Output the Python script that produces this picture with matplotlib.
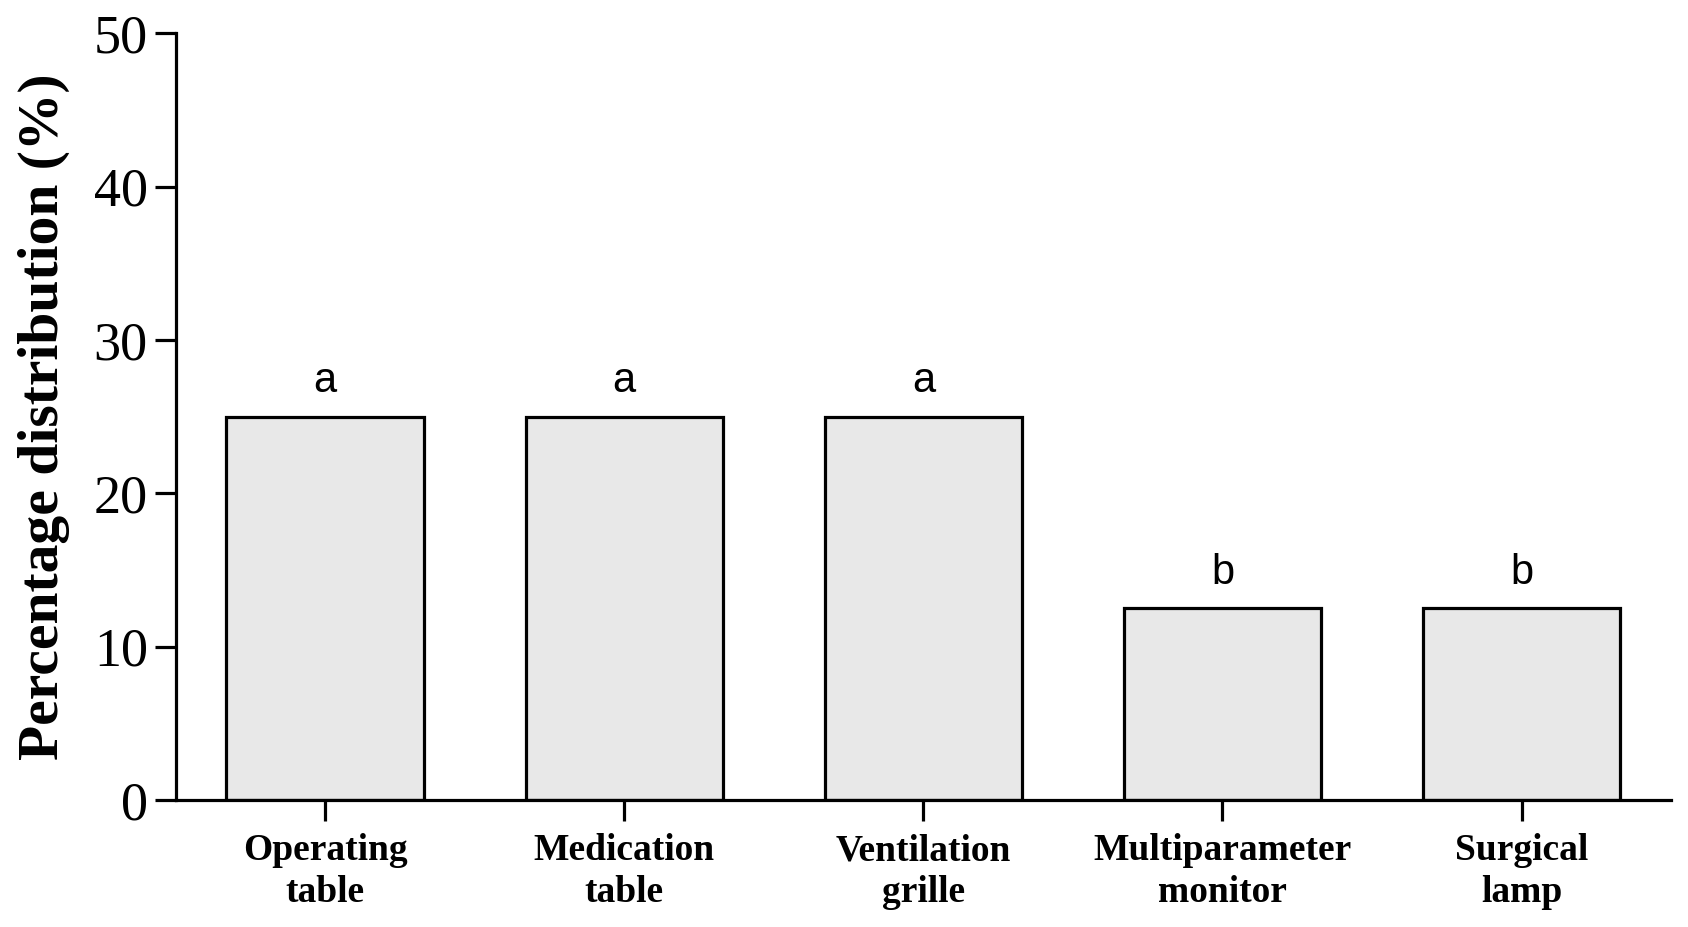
import matplotlib
matplotlib.use("Agg")
import matplotlib.pyplot as plt

categories = ["Operating\ntable", "Medication\ntable", "Ventilation\ngrille",
              "Multiparameter\nmonitor", "Surgical\nlamp"]
values = [25, 25, 25, 12.5, 12.5]
letters = ["a", "a", "a", "b", "b"]
yticks = [0, 10, 20, 30, 40, 50]

fig = plt.figure(figsize=(16.88, 9.27), dpi=100)
ax = fig.add_axes([0.104, 0.137, 0.886, 0.827])

x = list(range(len(categories)))
ax.bar(x, values, width=0.66, color="#e8e8e8", edgecolor="black", linewidth=2.3, zorder=2)
for xi, v, l in zip(x, values, letters):
    ax.text(xi, v + 1.6, l, ha="center", va="baseline", fontsize=30,
            family="Liberation Sans")

ax.set_xlim(-0.5, 4.5)
ax.set_ylim(0, 50)
ax.set_yticks(yticks)
ax.set_yticklabels([str(t) for t in yticks], family="Liberation Serif", fontsize=39)
ax.set_xticks(x)
ax.set_xticklabels(categories, family="Liberation Serif", fontweight="bold",
                   fontsize=27, linespacing=1.25)

for s in ["top", "right"]:
    ax.spines[s].set_visible(False)
for s in ["left", "bottom"]:
    ax.spines[s].set_linewidth(2.3)
ax.tick_params(axis="both", length=15, width=2.3)
ax.tick_params(axis="y", pad=5)
ax.tick_params(axis="x", pad=9)

ax.set_ylabel("Percentage distribution (%)", family="Liberation Serif",
              fontweight="bold", fontsize=41.5, va="center")
ax.yaxis.set_label_coords(-0.088, 0.5)

fig.savefig("out.png", dpi=100)
